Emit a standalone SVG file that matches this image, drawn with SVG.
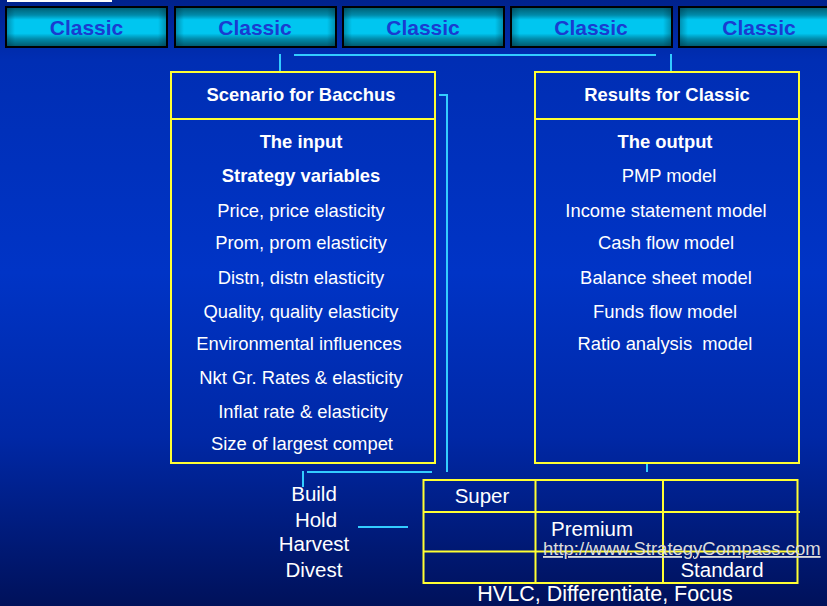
<svg xmlns="http://www.w3.org/2000/svg" width="827" height="606" viewBox="0 0 827 606">
  <defs>
    <linearGradient id="bg" x1="0" y1="0" x2="0" y2="1">
      <stop offset="0" stop-color="#00228c"/>
      <stop offset="0.1" stop-color="#002eb4"/>
      <stop offset="0.45" stop-color="#0034c6"/>
      <stop offset="0.72" stop-color="#0028a6"/>
      <stop offset="1" stop-color="#00115a"/>
    </linearGradient>
    <linearGradient id="btn" x1="0" y1="0" x2="0" y2="1">
      <stop offset="0" stop-color="#005c70"/>
      <stop offset="0.2" stop-color="#008aaa"/>
      <stop offset="0.32" stop-color="#00c6f0"/>
      <stop offset="0.66" stop-color="#00c6f0"/>
      <stop offset="0.8" stop-color="#008aaa"/>
      <stop offset="1" stop-color="#00566a"/>
    </linearGradient>
    <linearGradient id="btnEdge" x1="0" y1="0" x2="1" y2="0">
      <stop offset="0" stop-color="#003040" stop-opacity="0.35"/>
      <stop offset="0.05" stop-color="#003040" stop-opacity="0"/>
      <stop offset="0.95" stop-color="#003040" stop-opacity="0"/>
      <stop offset="1" stop-color="#003040" stop-opacity="0.35"/>
    </linearGradient>
  </defs>
  <style>
    .btnr { fill: url(#btn); stroke: #000; stroke-width: 2; }
    .btne { fill: url(#btnEdge); }
    .btnt { font-family: "Liberation Sans", Arial, sans-serif; font-weight: bold; font-size: 21px; fill: #1a3cd0; text-anchor: middle; }
    .box { fill: none; stroke: #ffff33; stroke-width: 2; }
    .hdr { font-family: "Liberation Sans", Arial, sans-serif; font-weight: bold; font-size: 18.4px; fill: #ffffff; text-anchor: middle; }
    .txt { font-family: "Liberation Sans", Arial, sans-serif; font-size: 18.4px; fill: #ffffff; text-anchor: middle; white-space: pre; }
    .big { font-family: "Liberation Sans", Arial, sans-serif; font-size: 20.5px; fill: #ffffff; text-anchor: middle; }
    .url { font-family: "Liberation Sans", Arial, sans-serif; font-size: 18.5px; fill: #dcdcdc; text-decoration: underline; }
    .con { fill: none; stroke: #33ccff; stroke-width: 2; }
  </style>

  <rect x="0" y="0" width="827" height="606" fill="url(#bg)"/>
  <rect x="7" y="0" width="105" height="2" fill="#ffffff"/>

  <g id="btn1">
    <rect class="btnr" x="6" y="7" width="161" height="40"/>
    <rect class="btne" x="7" y="8" width="159" height="38"/>
    <text class="btnt" x="86.5" y="35">Classic</text>
  </g>
  <g id="btn2">
    <rect class="btnr" x="175" y="7" width="161" height="40"/>
    <rect class="btne" x="176" y="8" width="159" height="38"/>
    <text class="btnt" x="255" y="35">Classic</text>
  </g>
  <g id="btn3">
    <rect class="btnr" x="343" y="7" width="161" height="40"/>
    <rect class="btne" x="344" y="8" width="159" height="38"/>
    <text class="btnt" x="423" y="35">Classic</text>
  </g>
  <g id="btn4">
    <rect class="btnr" x="511" y="7" width="161" height="40"/>
    <rect class="btne" x="512" y="8" width="159" height="38"/>
    <text class="btnt" x="591" y="35">Classic</text>
  </g>
  <g id="btn5">
    <rect class="btnr" x="679" y="7" width="161" height="40"/>
    <rect class="btne" x="680" y="8" width="159" height="38"/>
    <text class="btnt" x="759" y="35">Classic</text>
  </g>

  <g id="connectors">
    <line class="con" x1="294" y1="55" x2="656" y2="55"/>
    <line class="con" x1="280" y1="54" x2="280" y2="72"/>
    <line class="con" x1="671" y1="54" x2="671" y2="72"/>
    <polyline class="con" points="439,95 447,95 447,472"/>
    <line class="con" x1="307" y1="472" x2="432" y2="472"/>
    <line class="con" x1="303" y1="471" x2="303" y2="487"/>
    <line class="con" x1="647" y1="463" x2="647" y2="472"/>
    <line class="con" x1="358" y1="527" x2="408" y2="527"/>
  </g>

  <g id="scenario">
    <rect class="box" x="171" y="72" width="264" height="391"/>
    <line class="box" x1="171" y1="119" x2="435" y2="119"/>
    <text class="hdr" x="301" y="101">Scenario for Bacchus</text>
    <text class="hdr" x="301" y="148">The input</text>
    <text class="hdr" x="301" y="182">Strategy variables</text>
    <text class="txt" x="301" y="217">Price, price elasticity</text>
    <text class="txt" x="301" y="249">Prom, prom elasticity</text>
    <text class="txt" x="301" y="284">Distn, distn elasticity</text>
    <text class="txt" x="301" y="318">Quality, quality elasticity</text>
    <text class="txt" x="299" y="350">Environmental influences</text>
    <text class="txt" x="301" y="384">Nkt Gr. Rates &amp; elasticity</text>
    <text class="txt" x="303" y="418">Inflat rate &amp; elasticity</text>
    <text class="txt" x="302" y="450">Size of largest compet</text>
  </g>

  <g id="results">
    <rect class="box" x="535" y="72" width="264" height="391"/>
    <line class="box" x1="535" y1="119" x2="799" y2="119"/>
    <text class="hdr" x="667" y="101">Results for Classic</text>
    <text class="hdr" x="665" y="148">The output</text>
    <text class="txt" x="669" y="182">PMP model</text>
    <text class="txt" x="666" y="217">Income statement model</text>
    <text class="txt" x="666" y="249">Cash flow model</text>
    <text class="txt" x="666" y="284">Balance sheet model</text>
    <text class="txt" x="665" y="318">Funds flow model</text>
    <text class="txt" x="665" y="350">Ratio analysis  model</text>
  </g>

  <g id="strategies">
    <text class="big" x="314" y="501">Build</text>
    <text class="big" x="316" y="527">Hold</text>
    <text class="big" x="314" y="551">Harvest</text>
    <text class="big" x="314" y="577">Divest</text>
  </g>

  <g id="grid">
    <rect class="box" x="423.5" y="480" width="374" height="103"/>
    <line class="box" x1="535.5" y1="480" x2="535.5" y2="583"/>
    <line class="box" x1="663" y1="480" x2="663" y2="583"/>
    <line class="box" x1="423.5" y1="512" x2="800" y2="512"/>
    <line class="box" x1="423.5" y1="551.5" x2="799" y2="551.5"/>
    <text class="big" x="482" y="503">Super</text>
    <text class="big" x="592" y="536">Premium</text>
    <text class="big" x="722" y="577">Standard</text>
    <text class="big" x="605" y="601" style="font-size:21.5px">HVLC, Differentiate, Focus</text>
  </g>

  <text class="url" x="543" y="555">http://www.StrategyCompass.com</text>
</svg>
